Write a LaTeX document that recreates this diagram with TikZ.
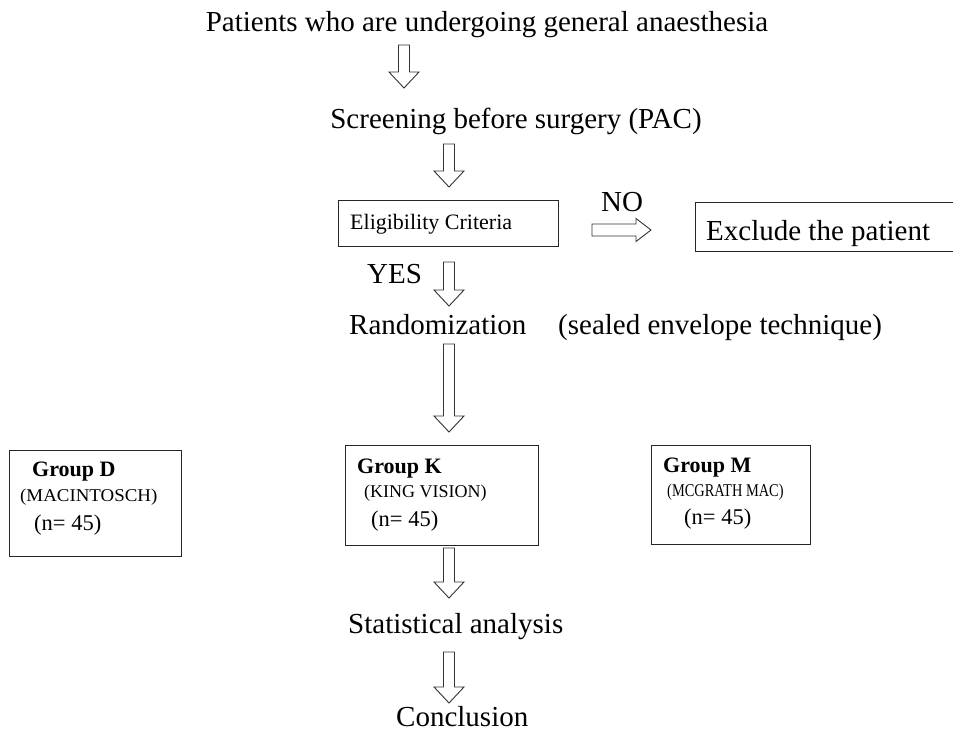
\documentclass[tikz,border=0pt]{standalone}
\usepackage{fontspec}
\setmainfont{Liberation Serif}
\usetikzlibrary{calc}
\tikzset{
  txt/.style={inner sep=0pt, anchor=base west, font=\fontsize{29}{31}\selectfont},
  ctxt/.style={inner sep=0pt, anchor=base, font=\fontsize{29}{31}\selectfont},
  eltxt/.style={inner sep=0pt, anchor=base west, font=\fontsize{22}{24}\selectfont},
  grp/.style={inner sep=0pt, anchor=base west, font=\bfseries\fontsize{22}{24}\selectfont},
  dev/.style={inner sep=0pt, anchor=base west, font=\fontsize{18}{19}\selectfont},
  num/.style={inner sep=0pt, anchor=base west, font=\fontsize{22.5}{24}\selectfont},
  boxline/.style={draw=black!85, line width=1.1pt},
  blockarrow/.style={draw=black!80, line width=0.9pt, fill=white, line join=miter},
}
\newcommand{\downblock}[2]{%
  \draw[blockarrow] let \p1=(#1), \p2=(#2) in
    ($(\x1-5.5pt,\y1)$) -- ($(\x1+5.5pt,\y1)$) -- ($(\x1+5.5pt,\y2+16pt)$) --
    ($(\x1+15pt,\y2+16pt)$) -- (\x1,\y2) -- ($(\x1-15pt,\y2+16pt)$) --
    ($(\x1-5.5pt,\y2+16pt)$) -- cycle;}
\newcommand{\rightblock}[2]{%
  \draw[blockarrow] let \p1=(#1), \p2=(#2) in
    (\x1,\y1+6pt) -- (\x2-15pt,\y1+6pt) -- (\x2-15pt,\y1+11.5pt) -- (\x2,\y1) --
    (\x2-15pt,\y1-11.5pt) -- (\x2-15pt,\y1-6pt) -- (\x1,\y1-6pt) -- cycle;}
\begin{document}
\begin{tikzpicture}[x=1pt,y=-1pt]
\useasboundingbox (0,0) rectangle (953,733);
\fill[white] (0,0) rectangle (953,733);

% texts
\node[ctxt] (title) at (487,32) {Patients who are undergoing general anaesthesia};
\node[ctxt] (screen) at (516,129) {Screening before surgery (PAC)};

\node[boxline, minimum width=220pt, minimum height=46pt, anchor=north west, inner sep=0pt] (eligbox) at (338,200) {};
\node[eltxt] (elig) at (350,229) {Eligibility Criteria};

\node[txt] (no) at (601,211) {NO};
\node[boxline, minimum width=300pt, minimum height=49pt, anchor=north west, inner sep=0pt] (exclbox) at (695,202) {};
\node[txt] (excl) at (706,240) {Exclude the patient};

\node[txt] (yes) at (367,283) {YES};
\node[txt] (rand) at (349,334) {Randomization};
\node[txt] (sealed) at (558,334) {(sealed envelope technique)};

% group boxes
\node[boxline, minimum width=172pt, minimum height=106pt, anchor=north west, inner sep=0pt] (gDbox) at (9,450) {};
\node[grp] (gD) at (32,476) {Group D};
\node[dev] (gDdev) at (20,501) {\scalebox{1.05}[1]{(MACINTOSCH)}};
\node[num] (gDn) at (34,530) {(n= 45)};

\node[boxline, minimum width=193pt, minimum height=100pt, anchor=north west, inner sep=0pt] (gKbox) at (345,445) {};
\node[grp] (gK) at (357,473) {Group K};
\node[dev] (gKdev) at (364,497) {(KING VISION)};
\node[num] (gKn) at (371,526) {(n= 45)};

\node[boxline, minimum width=159pt, minimum height=99pt, anchor=north west, inner sep=0pt] (gMbox) at (651,445) {};
\node[grp] (gM) at (663,472) {Group M};
\node[dev] (gMdev) at (667,496) {\scalebox{0.8}[1]{(MCGRATH MAC)}};
\node[num] (gMn) at (684,524) {(n= 45)};

\node[txt] (stat) at (348,633) {Statistical analysis};
\node[txt] (concl) at (396,726) {Conclusion};

% arrow end points
\coordinate (a1s) at (404,45);  \coordinate (a1e) at (404,88);
\coordinate (a2s) at (449,144); \coordinate (a2e) at (449,187);
\coordinate (a3s) at (449,262); \coordinate (a3e) at (449,306);
\coordinate (a4s) at (449,344); \coordinate (a4e) at (449,432);
\coordinate (a5s) at (449,548); \coordinate (a5e) at (449,598);
\coordinate (a6s) at (449,652); \coordinate (a6e) at (449,703);
\coordinate (ns) at (592,230);  \coordinate (ne) at (651,230);

\downblock{a1s}{a1e}
\downblock{a2s}{a2e}
\downblock{a3s}{a3e}
\downblock{a4s}{a4e}
\downblock{a5s}{a5e}
\downblock{a6s}{a6e}
\rightblock{ns}{ne}
\end{tikzpicture}
\end{document}
